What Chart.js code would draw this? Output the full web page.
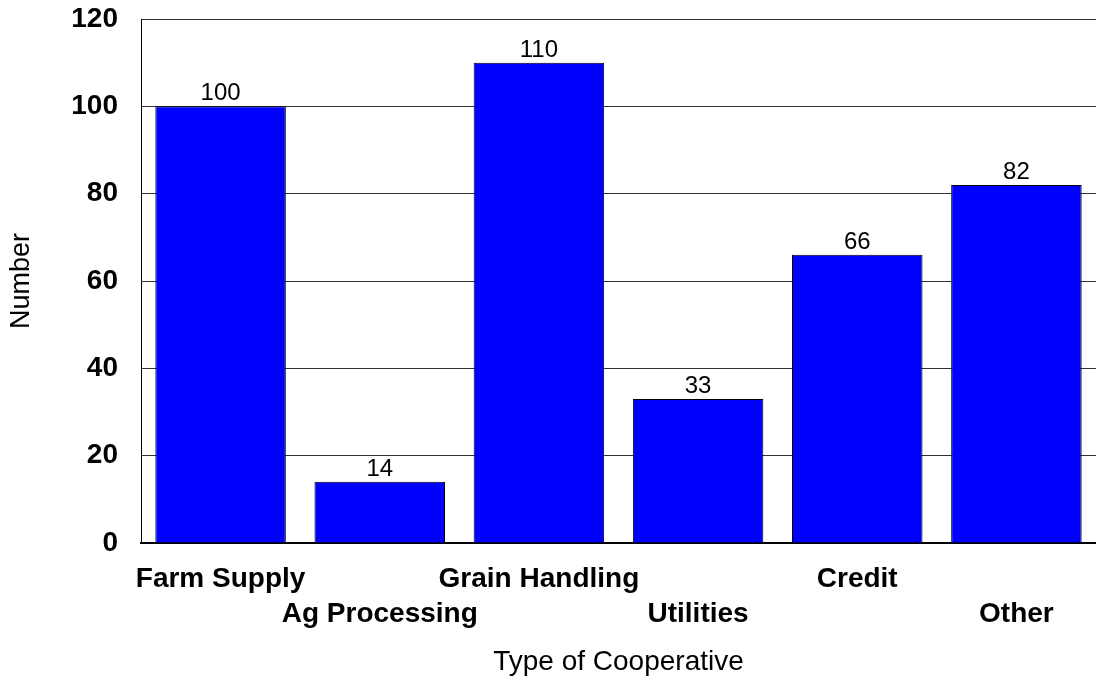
<!DOCTYPE html>
<html>
<head>
<meta charset="utf-8">
<script src="https://cdn.jsdelivr.net/npm/chart.js@4/dist/chart.umd.min.js"></script>
<style>
  html, body { margin: 0; padding: 0; background: #fff; }
  #wrap { width: 1096px; height: 684px; }
</style>
</head>
<body>
<div id="wrap"><canvas id="chart"></canvas></div>
<script>
// data
const categories = ["Farm Supply", "Ag Processing", "Grain Handling", "Utilities", "Credit", "Other"];
const counts = [100, 14, 110, 33, 66, 82];
const yTicks = [0, 20, 40, 60, 80, 100, 120];

const FONT = "'Liberation Sans', Arial, sans-serif";

// labels alternate between two rows
const tickLabels = categories.map((c, i) => i % 2 === 0 ? [c, ""] : ["", c]);

// value labels above bars
const valueLabels = {
  id: "valueLabels",
  afterDatasetsDraw(chart) {
    const ctx = chart.ctx;
    const meta = chart.getDatasetMeta(0);
    ctx.save();
    ctx.font = "24px " + FONT;
    ctx.fillStyle = "#000";
    ctx.textAlign = "center";
    ctx.textBaseline = "alphabetic";
    meta.data.forEach((bar, i) => {
      ctx.fillText(String(counts[i]), bar.x, bar.y - 6);
    });
    ctx.restore();
  }
};

// kill the auto padding so the plot area sits where we want
function noPad(s) {
  s.paddingTop = 0;
  s.paddingBottom = 0;
  s.paddingLeft = 0;
  s.paddingRight = 0;
}

new Chart(document.getElementById("chart"), {
  type: "bar",
  data: {
    labels: tickLabels,
    datasets: [{
      data: counts,
      backgroundColor: "#0000FF",
      borderColor: "#000",
      borderWidth: 1,
      categoryPercentage: 1,
      barPercentage: 0.82
    }]
  },
  options: {
    responsive: true,
    maintainAspectRatio: false,
    animation: false,
    layout: { padding: { top: 19, right: 0, left: 0, bottom: 0 } },
    plugins: {
      legend: { display: false },
      tooltip: { enabled: false }
    },
    scales: {
      x: {
        grid: { display: false, drawTicks: false },
        border: { color: "#000", width: 2 },
        ticks: {
          color: "#000",
          padding: 19,
          maxRotation: 0,
          autoSkip: false,
          font: { family: FONT, size: 28, weight: "bold", lineHeight: 1.25 }
        },
        title: {
          display: true,
          text: "Type of Cooperative",
          color: "#000",
          padding: { top: 0, bottom: 5 },
          font: { family: FONT, size: 28, lineHeight: 1.2 }
        },
        afterFit: (s) => { s.height = 141; noPad(s); }
      },
      y: {
        min: 0,
        max: 120,
        afterBuildTicks: (s) => { s.ticks = yTicks.map(v => ({ value: v })); },
        grid: { color: "#333", drawTicks: false },
        border: { color: "#000", width: 1 },
        ticks: {
          color: "#000",
          padding: 23,
          font: { family: FONT, size: 28, weight: "bold" }
        },
        title: {
          display: true,
          text: "Number",
          color: "#000",
          padding: { top: 5, bottom: 0 },
          font: { family: FONT, size: 27, lineHeight: 1.2 }
        },
        afterFit: (s) => { s.width = 141; noPad(s); }
      }
    }
  },
  plugins: [valueLabels]
});
</script>
</body>
</html>
